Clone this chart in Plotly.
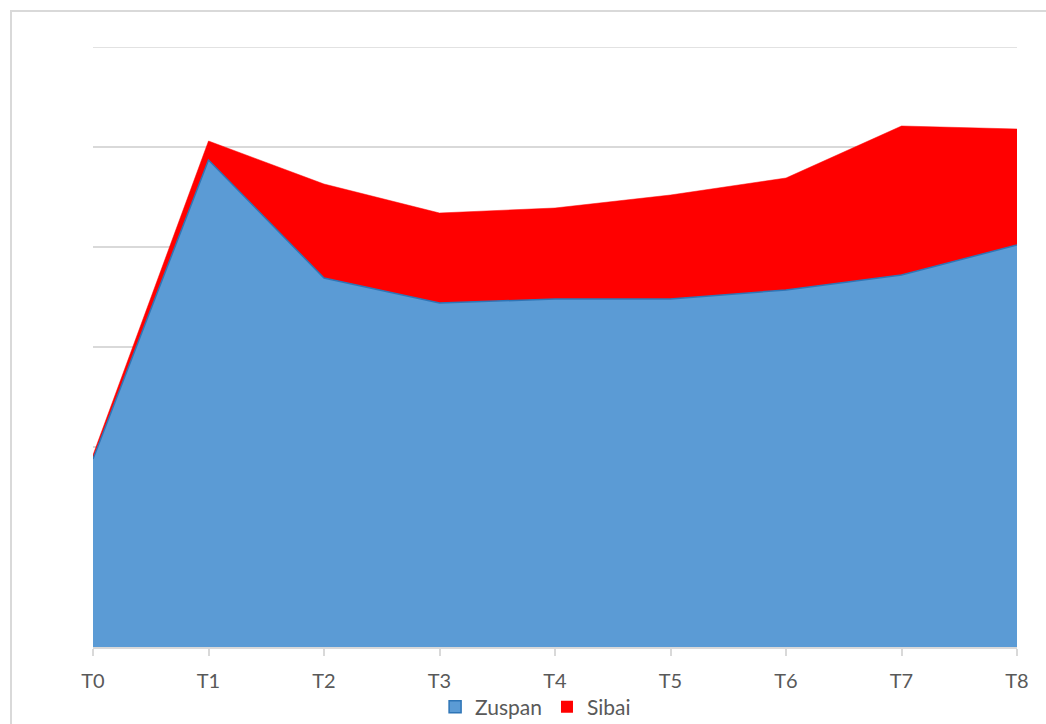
import plotly.graph_objects as go

categories = ["T0", "T1", "T2", "T3", "T4", "T5", "T6", "T7", "T8"]
zuspan = [1.88, 4.87, 3.69, 3.44, 3.48, 3.48, 3.57, 3.72, 4.02]
sibai = [0.04, 0.19, 0.94, 0.90, 0.91, 1.04, 1.12, 1.49, 1.16]

W, H = 1046, 724
L, R, T, B = 93, 29, 47, 77
pw, ph = W - L - R, H - T - B

fig = go.Figure()
fig.add_trace(go.Scatter(
    x=categories, y=zuspan, name="Zuspan", mode="lines",
    stackgroup="one", fillcolor="#5b9bd5",
    line=dict(color="#2e75b6", width=1.5), showlegend=False,
))
fig.add_trace(go.Scatter(
    x=categories, y=sibai, name="Sibai", mode="lines",
    stackgroup="one", fillcolor="#ff0000",
    line=dict(color="#ff0000", width=0.5), showlegend=False,
))
# legend entries as square swatches
fig.add_trace(go.Bar(
    x=[categories[0]], y=[None], name="Zuspan",
    marker=dict(color="#5b9bd5", line=dict(color="#2e75b6", width=1.5)),
))
fig.add_trace(go.Bar(
    x=[categories[0]], y=[None], name="Sibai",
    marker=dict(color="#ff0000", line=dict(color="#ff0000", width=0)),
))

font_family = "Lato, Carlito, 'Liberation Sans', sans-serif"

fig.update_layout(
    width=W, height=H,
    margin=dict(l=L, r=R, t=T, b=B, autoexpand=False),
    paper_bgcolor="white", plot_bgcolor="white",
    font=dict(family=font_family, size=20, color="#595959"),
    showlegend=True,
    legend=dict(
        orientation="h", x=0.479, xanchor="center",
        y=(647 - 707) / ph, yanchor="middle",
        font=dict(size=21, color="#595959"),
        traceorder="normal", itemwidth=30,
        bgcolor="rgba(0,0,0,0)",
    ),
    xaxis=dict(
        type="category", range=[0, 8],
        showgrid=False, showline=True, linecolor="#d9d9d9", linewidth=1.5,
        ticks="outside", ticklen=7, tickcolor="#d9d9d9", tickwidth=1.5,
        tickfont=dict(size=20, color="#595959"), ticklabelstandoff=8,
        zeroline=False,
    ),
    yaxis=dict(
        range=[0, 6], dtick=1, showticklabels=False,
        showgrid=True, gridcolor="#d9d9d9", gridwidth=1.5,
        zeroline=False, showline=False,
    ),
    shapes=[
        dict(
            type="rect", xref="paper", yref="paper",
            x0=(11 - L) / pw, x1=1.2, y0=-0.3, y1=(647 - 11) / ph,
            line=dict(color="#d9d9d9", width=2), fillcolor="rgba(0,0,0,0)",
            layer="below",
        ),
        dict(
            type="line", xref="paper", yref="y",
            x0=0, x1=1, y0=6, y1=6,
            line=dict(color="#d9d9d9", width=1.5), layer="below",
        ),
    ],
)

fig.write_html("out.html")
